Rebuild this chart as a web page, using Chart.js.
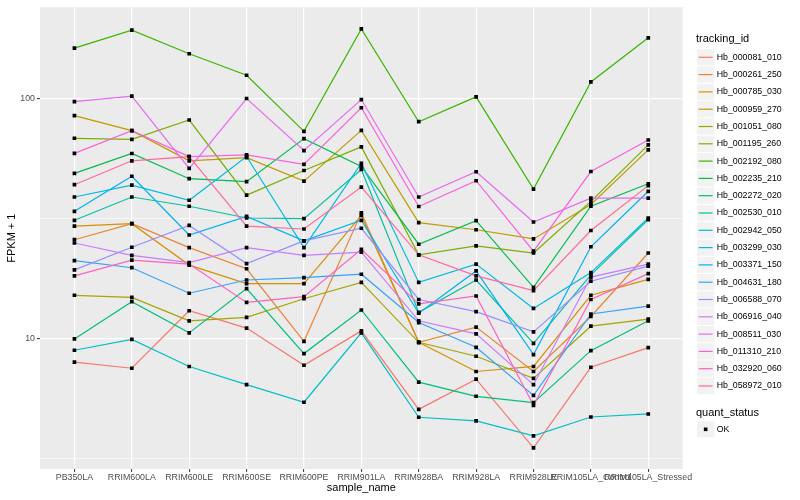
<!DOCTYPE html>
<html>
<head>
<meta charset="utf-8">
<script src="https://cdn.jsdelivr.net/npm/chart.js@4.4.1/dist/chart.umd.min.js"></script>
<style>
  html, body { margin: 0; padding: 0; background: #ffffff; }
  #wrap { width: 800px; height: 500px; }
</style>
</head>
<body>
<div id="wrap"><canvas id="myChart" width="800" height="500"></canvas></div>
<script>
// categories on the x axis
const categories = ['PB350LA', 'RRIM600LA', 'RRIM600LE', 'RRIM600SE', 'RRIM600PE', 'RRIM901LA',
  'RRIM928BA', 'RRIM928LA', 'RRIM928LE', 'RRIM105LA_Control', 'RRIM105LA_Stressed'];

// FPKM + 1 per gene (log scale)
const hb000081_010 = [8.0, 7.55, 13.1, 11.1, 7.77, 10.8, 5.09, 6.8, 3.52, 7.62, 9.2];
const hb000261_250 = [25.9, 30.2, 24.0, 19.6, 9.77, 33.5, 9.68, 11.2, 7.32, 12.4, 22.8];
const hb000785_030 = [29.5, 30.2, 20.3, 17.0, 17.0, 32.7, 9.68, 7.32, 7.68, 15.2, 17.7];
const hb000959_270 = [85.1, 73.7, 55.2, 56.9, 45.4, 73.9, 30.5, 28.5, 26.1, 36.3, 61.3];
const hb001051_080 = [15.2, 14.9, 11.9, 12.3, 14.7, 17.2, 9.68, 8.47, 6.85, 11.3, 12.1];
const hb001195_260 = [68.5, 67.8, 81.6, 39.7, 50.3, 63.1, 22.4, 24.4, 22.8, 37.4, 64.3];
const hb002192_080 = [162.7, 193.2, 154.1, 125.4, 73.2, 195.6, 80.3, 101.9, 42.1, 117.6, 179.5];
const hb002235_210 = [48.9, 59.2, 46.5, 45.2, 68.3, 52.3, 24.8, 31.1, 16.4, 35.7, 44.3];
const hb002272_020 = [10.0, 14.3, 10.6, 16.2, 8.69, 13.2, 6.61, 5.77, 5.43, 8.94, 11.9];
const hb002530_010 = [31.2, 39.0, 35.7, 31.9, 31.7, 50.8, 12.9, 17.6, 9.59, 18.5, 31.4];
const hb002942_050 = [8.97, 9.96, 7.68, 6.45, 5.45, 10.6, 4.72, 4.56, 3.95, 4.73, 4.87];
const hb003299_030 = [39.0, 43.7, 37.8, 57.5, 24.0, 53.9, 17.2, 20.5, 13.4, 18.9, 31.9];
const hb003371_150 = [34.0, 47.6, 27.1, 32.4, 25.6, 31.2, 12.8, 19.2, 8.61, 24.2, 41.2];
const hb004631_180 = [21.2, 19.8, 15.5, 17.6, 18.0, 18.6, 11.7, 9.23, 5.82, 12.7, 13.7];
const hb006588_070 = [19.4, 24.1, 29.7, 20.6, 25.6, 28.9, 14.6, 13.0, 10.7, 17.4, 20.1];
const hb006916_040 = [25.1, 22.3, 20.8, 24.0, 22.3, 23.0, 11.9, 10.5, 6.45, 18.1, 20.5];
const hb008511_030 = [97.4, 102.6, 51.3, 100.3, 60.9, 99.3, 39.0, 49.7, 30.7, 38.6, 38.6];
const hb011310_210 = [59.3, 73.7, 57.5, 58.4, 53.3, 91.8, 35.6, 45.6, 23.2, 49.8, 67.4];
const hb032920_060 = [18.3, 21.3, 20.5, 14.2, 15.0, 23.6, 14.0, 15.1, 5.29, 14.6, 18.7];
const hb058972_010 = [43.9, 55.2, 57.5, 29.5, 28.7, 42.9, 22.4, 18.3, 15.9, 28.3, 43.5];

const trackingIds = ['Hb_000081_010', 'Hb_000261_250', 'Hb_000785_030', 'Hb_000959_270', 'Hb_001051_080',
  'Hb_001195_260', 'Hb_002192_080', 'Hb_002235_210', 'Hb_002272_020', 'Hb_002530_010',
  'Hb_002942_050', 'Hb_003299_030', 'Hb_003371_150', 'Hb_004631_180', 'Hb_006588_070',
  'Hb_006916_040', 'Hb_008511_030', 'Hb_011310_210', 'Hb_032920_060', 'Hb_058972_010'];
const seriesValues = [hb000081_010, hb000261_250, hb000785_030, hb000959_270, hb001051_080,
  hb001195_260, hb002192_080, hb002235_210, hb002272_020, hb002530_010,
  hb002942_050, hb003299_030, hb003371_150, hb004631_180, hb006588_070,
  hb006916_040, hb008511_030, hb011310_210, hb032920_060, hb058972_010];

// y axis: labelled ticks + minor grid
const yTickValues = [10, 100];
const yTickLabels = ['10', '100'];
const yMinorValues = [3.1623, 31.623];

const quantStatus = ['OK'];

const FONT = '"Liberation Sans", Arial, Helvetica, sans-serif';
Chart.defaults.font.family = FONT;

// ggplot-style hue palette (hcl, c=100, l=65)
function hcl(h, c, l) {
  const hr = h * Math.PI / 180;
  const U = c * Math.cos(hr), V = c * Math.sin(hr);
  const Xn = 95.047, Yn = 100, Zn = 108.883;
  const un = 4 * Xn / (Xn + 15 * Yn + 3 * Zn), vn = 9 * Yn / (Xn + 15 * Yn + 3 * Zn);
  const Y = Yn * (l > 8 ? Math.pow((l + 16) / 116, 3) : l / 903.3);
  const u = U / (13 * l) + un, v = V / (13 * l) + vn;
  const X = 9 * Y * u / (4 * v), Z = -X / 3 - 5 * Y + 3 * Y / v;
  const lin = [3.240479 * X - 1.537150 * Y - 0.498535 * Z,
    -0.969256 * X + 1.875992 * Y + 0.041556 * Z,
    0.055648 * X - 0.204043 * Y + 1.057311 * Z].map(x => x / 100);
  const g = x => {
    x = x <= 0.0031308 ? 12.92 * x : 1.055 * Math.pow(x, 1 / 2.4) - 0.055;
    return Math.round(255 * Math.min(1, Math.max(0, x)));
  };
  return 'rgb(' + lin.map(g).join(',') + ')';
}
const colors = trackingIds.map((id, i) => hcl(15 + 360 * i / trackingIds.length, 100, 65));

const lineSets = seriesValues.map((vals, i) => ({
  label: trackingIds[i],
  data: vals.map((v, j) => ({ x: j, y: v })),
  borderColor: colors[i],
  borderWidth: 1.2,
  pointRadius: 0,
  fill: false,
  tension: 0,
  order: 100 - i
}));
const pointSets = seriesValues.map((vals, i) => ({
  label: trackingIds[i] + ' points',
  data: vals.map((v, j) => ({ x: j, y: v })),
  showLine: false,
  pointStyle: 'rect',
  pointRadius: 2.6,
  pointBackgroundColor: '#000000',
  pointBorderWidth: 0,
  order: 0
}));

const isMajor = v => yTickValues.indexOf(v) !== -1;

// grey panel + hand-drawn ggplot legend and axis titles
const ggPanel = {
  id: 'ggPanel',
  beforeDraw(chart) {
    const { ctx, chartArea: a } = chart;
    ctx.save();
    ctx.fillStyle = '#EBEBEB';
    ctx.fillRect(a.left, a.top, a.right - a.left, a.bottom - a.top);
    ctx.restore();
  },
  afterDraw(chart) {
    const { ctx, chartArea: a } = chart;
    ctx.save();
    ctx.fillStyle = '#000000';
    ctx.textBaseline = 'middle';

    // axis titles
    ctx.font = '11px ' + FONT;
    ctx.textAlign = 'center';
    ctx.fillText('sample_name', (a.left + a.right) / 2, 488);
    ctx.save();
    ctx.translate(12, (a.top + a.bottom) / 2);
    ctx.rotate(-Math.PI / 2);
    ctx.fillText('FPKM + 1', 0, 0);
    ctx.restore();

    // colour legend
    const lx = 697, key = 17.3, tx = 716.7;
    ctx.textAlign = 'left';
    ctx.font = '11px ' + FONT;
    ctx.fillText('tracking_id', 696, 39);
    trackingIds.forEach((id, i) => {
      const cy = 57.3 + key * i;
      ctx.fillStyle = '#F2F2F2';
      ctx.fillRect(lx, cy - key / 2 + 0.5, key, key - 1);
      ctx.strokeStyle = colors[i];
      ctx.lineWidth = 1.2;
      ctx.beginPath();
      ctx.moveTo(lx + 1.7, cy);
      ctx.lineTo(lx + key - 1.7, cy);
      ctx.stroke();
      ctx.fillStyle = '#000000';
      ctx.font = '8.8px ' + FONT;
      ctx.fillText(id, tx, cy);
    });

    // point legend
    ctx.font = '11px ' + FONT;
    ctx.fillText('quant_status', 696, 412.7);
    quantStatus.forEach((s, i) => {
      const cy = 429.3 + key * i;
      ctx.fillStyle = '#F2F2F2';
      ctx.fillRect(lx, cy - key / 2 + 0.5, key, key - 1);
      ctx.fillStyle = '#000000';
      ctx.fillRect(lx + key / 2 - 1.8, cy - 1.8, 3.6, 3.6);
      ctx.font = '8.8px ' + FONT;
      ctx.fillText(s, tx, cy);
    });
    ctx.restore();
  }
};

new Chart(document.getElementById('myChart'), {
  type: 'line',
  data: { datasets: lineSets.concat(pointSets) },
  options: {
    responsive: false,
    animation: false,
    events: [],
    layout: { padding: { top: 5, right: 117.3, left: 0, bottom: 0 } },
    plugins: { legend: { display: false }, tooltip: { enabled: false } },
    scales: {
      x: {
        type: 'linear',
        min: -0.6,
        max: 10.6,
        afterBuildTicks: s => { s.ticks = categories.map((c, i) => ({ value: i })); },
        afterFit: s => { s.height = 31; },
        ticks: {
          autoSkip: false, maxRotation: 0, minRotation: 0, padding: 0,
          color: '#4D4D4D', font: { size: 8.8 },
          callback: v => categories[v]
        },
        grid: { color: '#FFFFFF', lineWidth: 1.2, drawTicks: true, tickLength: 3, tickColor: '#333333', tickWidth: 1 },
        border: { display: false }
      },
      y: {
        type: 'logarithmic',
        min: 2.873,
        max: 240.6,
        afterBuildTicks: s => { s.ticks = yMinorValues.concat(yTickValues).map(v => ({ value: v })); },
        afterFit: s => { s.width = 40; },
        ticks: {
          padding: 2, color: '#4D4D4D', font: { size: 8.8 },
          callback: v => isMajor(v) ? yTickLabels[yTickValues.indexOf(v)] : ''
        },
        grid: {
          color: '#FFFFFF',
          lineWidth: c => isMajor(c.tick.value) ? 1.2 : 0.6,
          tickLength: 3,
          tickWidth: 1,
          tickColor: c => isMajor(c.tick.value) ? '#333333' : 'rgba(0,0,0,0)'
        },
        border: { display: false }
      }
    }
  },
  plugins: [ggPanel]
});
</script>
</body>
</html>
